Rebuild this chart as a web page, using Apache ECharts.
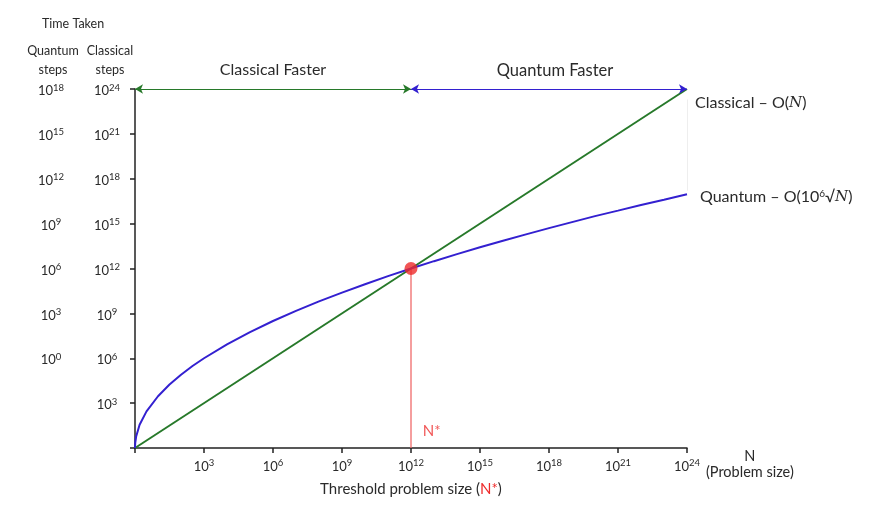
<!DOCTYPE html>
<html><head><meta charset="utf-8">
<script src="https://cdn.jsdelivr.net/npm/echarts@6/dist/echarts.min.js"></script>
<style>html,body{margin:0;padding:0;background:#fff}#c{width:874px;height:525px}</style>
</head><body><div id="c"></div>
<script>
// Exponents of N (x) and of classical steps (y)
const classicalX = [0, 24];
const classicalY = [0, 24];
const quantumX = [0, 0.01, 0.05, 0.2, 0.5, 1, 1.5, 2, 2.5, 3, 4, 5, 6, 7, 8, 9, 10, 11, 12, 13, 14, 15, 16, 17, 18, 19, 20, 21, 22, 23, 24];
const quantumY = [0, 0.35, 0.77, 1.55, 2.45, 3.46, 4.24, 4.9, 5.48, 6.0, 6.93, 7.75, 8.49, 9.17, 9.8, 10.39, 10.95, 11.49, 12.0, 12.49, 12.96, 13.42, 13.86, 14.28, 14.7, 15.1, 15.5, 15.87, 16.25, 16.6, 16.97];
const crossover = [12, 12];
const thresholdLine = [[12, 0], [12, 12]];
const xTickExp = {3:'3',6:'6',9:'9',12:'12',15:'15',18:'18',21:'21',24:'24'};
const classicalTickExp = {3:'3',6:'6',9:'9',12:'12',15:'15',18:'18',21:'21',24:'24'};
const quantumTickExp = {6:'0',9:'3',12:'6',15:'9',18:'12',21:'15',24:'18'};
const regionClassical = [[0, 24], [12, 24]];
const regionQuantum = [[12, 24], [24, 24]];
const nStarLabelPos = [12.9, 1.1];

const FONT = 'Lato, "Liberation Sans", sans-serif';
const TXT = '#2a2a2a';
const GREEN = '#27792a';
const BLUE = '#3320d0';
const RED = '#ee2a2a';
const supRich = {
  b: {fontSize: 13, fontFamily: FONT, color: TXT, lineHeight: 17, verticalAlign: 'bottom'},
  s: {fontSize: 9.5, fontFamily: FONT, color: TXT, lineHeight: 17, verticalAlign: 'bottom', padding: [0, 0, 5, 0]}
};
function powLabel(map) {
  return v => map[v] !== undefined ? '{b|10}{s|' + map[v] + '}' : '';
}
function ml(from, to, color, width, arrows) {
  return {
    silent: true, symbol: arrows ? ['arrow', 'arrow'] : ['none', 'none'], symbolSize: [7, 8],
    label: {show: false}, lineStyle: {color: color, width: width, type: 'solid', opacity: 1},
    emphasis: {disabled: true},
    data: [[{coord: from}, {coord: to}]]
  };
}
const chart = echarts.init(document.getElementById('c'));
chart.setOption({
  animation: false,
  grid: {left: 135, right: 187, top: 89, bottom: 77},
  xAxis: {
    type: 'value', min: 0, max: 24, interval: 3,
    axisLine: {lineStyle: {color: '#222', width: 1.5}},
    axisTick: {length: 5, lineStyle: {color: '#222', width: 1.5}},
    splitLine: {show: false},
    axisLabel: {margin: 8, formatter: powLabel(xTickExp), rich: supRich},
    name: 'N\n(Problem size)', nameLocation: 'end', nameGap: 61,
    nameTextStyle: {align: 'center', verticalAlign: 'top', fontFamily: FONT, fontSize: 14.5, color: TXT, lineHeight: 16, padding: [0, 0, 0, 0]}
  },
  yAxis: [{
    type: 'value', min: 0, max: 24, interval: 3, position: 'left',
    axisLine: {show: true, lineStyle: {color: '#222', width: 1.5}},
    axisTick: {show: true, length: 5, lineStyle: {color: '#222', width: 1.5}},
    splitLine: {show: false},
    axisLabel: {margin: 28, align: 'center', formatter: powLabel(classicalTickExp), rich: supRich}
  }, {
    type: 'value', min: 0, max: 24, interval: 3, position: 'left', offset: 56,
    axisLine: {show: false}, axisTick: {show: false}, splitLine: {show: false},
    axisLabel: {margin: 28, align: 'center', formatter: powLabel(quantumTickExp), rich: supRich}
  }],
  series: [{
    name: 'Threshold line', type: 'line', symbol: 'none', z: 2, silent: true,
    data: thresholdLine,
    lineStyle: {color: '#f06a6a', width: 1.3}
  }, {
    name: 'Classical', type: 'line', symbol: 'none', clip: false, z: 3,
    data: classicalX.map((x, i) => [x, classicalY[i]]),
    lineStyle: {color: GREEN, width: 2},
    endLabel: {show: true, offset: [0, 14], formatter: 'Classical – O({i|N})',
      fontFamily: FONT, fontSize: 16, color: TXT,
      rich: {i: {fontFamily: '"DejaVu Serif", serif', fontStyle: 'italic', fontSize: 15, color: TXT}}}
  }, {
    name: 'Quantum', type: 'line', symbol: 'none', clip: false, z: 3,
    data: quantumX.map((x, i) => [x, quantumY[i]]),
    lineStyle: {color: BLUE, width: 2},
    endLabel: {show: true, offset: [5, 3], formatter: 'Quantum – O(10{s|6}√{i|N})',
      fontFamily: FONT, fontSize: 16, color: TXT,
      rich: {
        s: {fontFamily: FONT, fontSize: 10, color: TXT, verticalAlign: 'bottom', padding: [0, 0, 7, 0]},
        i: {fontFamily: '"DejaVu Serif", serif', fontStyle: 'italic', fontSize: 15, color: TXT}
      }}
  }, {
    name: 'Classical region', type: 'line', data: [], symbol: 'none',
    markLine: ml(regionClassical[0], regionClassical[1], GREEN, 1, true)
  }, {
    name: 'Quantum region', type: 'line', data: [], symbol: 'none',
    markLine: ml(regionQuantum[0], regionQuantum[1], BLUE, 1, true)
  }, {
    name: 'Gap', type: 'line', data: [], symbol: 'none',
    markLine: ml([24, 23.3], [24, 17.2], '#eeeeee', 1, false)
  }, {
    name: 'Threshold', type: 'scatter', symbolSize: 13, z: 5,
    data: [crossover], itemStyle: {color: RED}
  }, {
    name: 'N* label', type: 'scatter', symbolSize: 0, silent: true,
    data: [nStarLabelPos],
    label: {show: true, formatter: 'N*', color: RED, fontFamily: FONT, fontSize: 15, position: 'inside'}
  }],
  graphic: [
    {type: 'text', left: 42, top: 17, style: {text: 'Time Taken', font: '12.5px ' + FONT, fill: TXT}},
    {type: 'text', x: 53, y: 41, style: {text: 'Quantum\nsteps', font: '12.5px ' + FONT, fill: TXT, align: 'center', lineHeight: 19}},
    {type: 'text', x: 110, y: 41, style: {text: 'Classical\nsteps', font: '12.5px ' + FONT, fill: TXT, align: 'center', lineHeight: 19}},
    {type: 'text', x: 273, y: 62, style: {text: 'Classical Faster', font: '16px ' + FONT, fill: TXT, align: 'center'}},
    {type: 'text', x: 555, y: 62, style: {text: 'Quantum Faster', font: '16.5px ' + FONT, fill: TXT, align: 'center'}},
    {type: 'text', x: 411, y: 482, style: {text: 'Threshold problem size ({r|N*})', font: '15px ' + FONT, fill: TXT, align: 'center',
      rich: {r: {fill: RED, color: RED, fontFamily: FONT, fontSize: 15}}}}
  ]
});
</script></body></html>
